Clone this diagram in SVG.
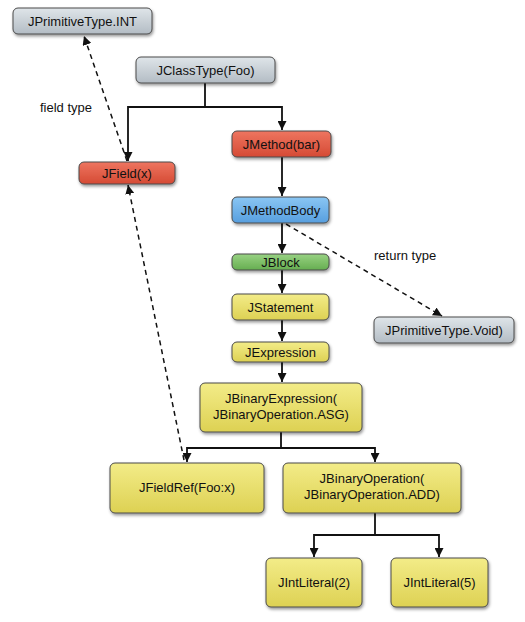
<svg xmlns="http://www.w3.org/2000/svg" width="525" height="622" viewBox="0 0 525 622">
<defs>
<linearGradient id="gGrey" x1="0" y1="0" x2="0" y2="1"><stop offset="0" stop-color="#dfe5e9"/><stop offset="1" stop-color="#b3bcc4"/></linearGradient>
<linearGradient id="gRed" x1="0" y1="0" x2="0" y2="1"><stop offset="0" stop-color="#ee7560"/><stop offset="1" stop-color="#d54a34"/></linearGradient>
<linearGradient id="gBlue" x1="0" y1="0" x2="0" y2="1"><stop offset="0" stop-color="#8ac6f3"/><stop offset="1" stop-color="#579fdf"/></linearGradient>
<linearGradient id="gGreen" x1="0" y1="0" x2="0" y2="1"><stop offset="0" stop-color="#98d283"/><stop offset="1" stop-color="#66ae50"/></linearGradient>
<linearGradient id="gYellow" x1="0" y1="0" x2="0" y2="1"><stop offset="0" stop-color="#f3ec88"/><stop offset="1" stop-color="#ddd153"/></linearGradient>
<filter id="sh" x="-10%" y="-20%" width="130%" height="160%"><feDropShadow dx="1" dy="2" stdDeviation="1.5" flood-color="#000" flood-opacity="0.4"/></filter>
<marker id="ah" viewBox="0 0 10 10" refX="10" refY="5" markerWidth="9" markerHeight="9" markerUnits="userSpaceOnUse" orient="auto"><path d="M0,0 L10,5 L0,10 z" fill="#111"/></marker>
</defs>
<style>
.n rect{stroke:#4a4a4a;stroke-width:1;filter:url(#sh)}
.n text{font-family:"Liberation Sans",Arial,sans-serif;font-size:13px;fill:#111;text-anchor:middle}
.grey rect{fill:url(#gGrey)}
.red rect{fill:url(#gRed)}
.blue rect{fill:url(#gBlue)}
.green rect{fill:url(#gGreen)}
.yellow rect{fill:url(#gYellow)}
.c path,.c line{fill:none;stroke:#111;stroke-width:1.8}
.c .d{stroke-dasharray:5,4;stroke-width:1.5}
.lbl{font-family:"Liberation Sans",Arial,sans-serif;font-size:13px;fill:#111}
</style>
<rect width="525" height="622" fill="#fff"/>
<g id="connectors" class="c">
<path d="M205,83 V107 H128 V161" marker-end="url(#ah)"/>
<path d="M205,107 H282 V130" marker-end="url(#ah)"/>
<line x1="282" y1="157" x2="282" y2="196" marker-end="url(#ah)"/>
<line x1="282" y1="223" x2="282" y2="253" marker-end="url(#ah)"/>
<line x1="282" y1="270" x2="282" y2="293" marker-end="url(#ah)"/>
<line x1="282" y1="320" x2="282" y2="341" marker-end="url(#ah)"/>
<line x1="282" y1="362" x2="282" y2="382" marker-end="url(#ah)"/>
<path d="M281,432 V448 H187 V462" marker-end="url(#ah)"/>
<path d="M281,448 H375 V462" marker-end="url(#ah)"/>
<path d="M375,513 V535 H314 V557" marker-end="url(#ah)"/>
<path d="M375,535 H439 V557" marker-end="url(#ah)"/>
<line class="d" x1="127" y1="161" x2="84" y2="36" marker-end="url(#ah)"/>
<line class="d" x1="184" y1="460" x2="128" y2="185" marker-end="url(#ah)"/>
<line class="d" x1="286" y1="224" x2="442" y2="316" marker-end="url(#ah)"/>
</g>
<text class="lbl" x="40" y="112">field type</text>
<text class="lbl" x="374" y="260">return type</text>
<g id="int" class="n grey"><rect x="13" y="8" width="139" height="26" rx="5"/><text x="82.5" y="25.5">JPrimitiveType.INT</text></g>
<g id="classtype" class="n grey"><rect x="136" y="57" width="139" height="26" rx="5"/><text x="205.5" y="74.5">JClassType(Foo)</text></g>
<g id="jmethod" class="n red"><rect x="232" y="131" width="99" height="26" rx="5"/><text x="281.5" y="148.5">JMethod(bar)</text></g>
<g id="jfield" class="n red"><rect x="79" y="162" width="96" height="22" rx="5"/><text x="127" y="177.5">JField(x)</text></g>
<g id="jmethodbody" class="n blue"><rect x="232" y="197" width="97" height="26" rx="5"/><text x="280.5" y="214.5">JMethodBody</text></g>
<g id="jblock" class="n green"><rect x="232" y="254" width="97" height="16" rx="5"/><text x="280.5" y="266.5">JBlock</text></g>
<g id="jstatement" class="n yellow"><rect x="232" y="294" width="97" height="26" rx="5"/><text x="280.5" y="311.5">JStatement</text></g>
<g id="jexpression" class="n yellow"><rect x="232" y="342" width="97" height="20" rx="5"/><text x="280.5" y="356.5">JExpression</text></g>
<g id="void" class="n grey"><rect x="374" y="317" width="140" height="26" rx="5"/><text x="444" y="334.5">JPrimitiveType.Void)</text></g>
<g id="binexpr" class="n yellow"><rect x="200" y="383" width="162" height="49" rx="5"/><text x="281" y="403">JBinaryExpression(</text><text x="281" y="419">JBinaryOperation.ASG)</text></g>
<g id="fieldref" class="n yellow"><rect x="110" y="463" width="154" height="50" rx="5"/><text x="187" y="492">JFieldRef(Foo:x)</text></g>
<g id="binop" class="n yellow"><rect x="283" y="463" width="178" height="50" rx="5"/><text x="372" y="483">JBinaryOperation(</text><text x="372" y="499">JBinaryOperation.ADD)</text></g>
<g id="lit2" class="n yellow"><rect x="266" y="558" width="96" height="49" rx="5"/><text x="314" y="587">JIntLiteral(2)</text></g>
<g id="lit5" class="n yellow"><rect x="391" y="558" width="97" height="49" rx="5"/><text x="439.5" y="587">JIntLiteral(5)</text></g>
</svg>
